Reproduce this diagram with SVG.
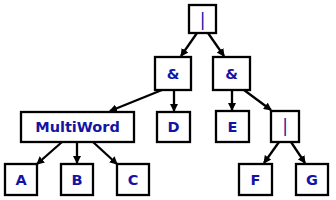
<svg xmlns="http://www.w3.org/2000/svg" width="336" height="200" viewBox="0 0 336 200">
<defs>
<marker id="ah" markerWidth="8" markerHeight="8" refX="7" refY="4" orient="auto" markerUnits="userSpaceOnUse">
<path d="M0,0 L8,4 L0,8 Z" fill="#000"/>
</marker>
<style>
.n rect{fill:#fff;stroke:#000;stroke-width:2.3}
.n text{font-family:"DejaVu Sans",sans-serif;font-size:14.5px;font-weight:bold;fill:#1414a4;text-anchor:middle}
.n text.bar{font-size:17px;font-weight:normal}
.e line{stroke:#000;stroke-width:2.3;marker-end:url(#ah)}
</style>
</defs>
<rect width="336" height="200" fill="#fff"/>
<g class="e">
<line x1="197" y1="33" x2="181" y2="56"/>
<line x1="208" y1="33" x2="224" y2="56"/>
<line x1="162" y1="90" x2="110" y2="111"/>
<line x1="174" y1="90" x2="174" y2="111"/>
<line x1="232" y1="90" x2="232" y2="110"/>
<line x1="244" y1="90" x2="271" y2="110"/>
<line x1="279" y1="142" x2="264" y2="163"/>
<line x1="291" y1="142" x2="305" y2="163"/>
<line x1="62" y1="142" x2="37" y2="164"/>
<line x1="77" y1="142" x2="77" y2="163"/>
<line x1="93" y1="142" x2="117" y2="164"/>
</g>
<g class="n" id="root"><rect x="189" y="5" width="27" height="28"/><text class="bar" x="202.5" y="25.9">|</text></g>
<g class="n" id="and1"><rect x="155" y="57" width="36" height="33"/><text x="173" y="78.8">&amp;</text></g>
<g class="n" id="and2"><rect x="213" y="57" width="37" height="33"/><text x="231.5" y="78.8">&amp;</text></g>
<g class="n" id="multi"><rect x="21" y="112" width="113" height="30"/><text x="77.5" y="132.3">MultiWord</text></g>
<g class="n" id="d"><rect x="157" y="112" width="33" height="30"/><text x="173.5" y="132.3">D</text></g>
<g class="n" id="e"><rect x="216" y="111" width="33" height="31"/><text x="232.5" y="131.8">E</text></g>
<g class="n" id="or2"><rect x="271" y="111" width="28" height="31"/><text class="bar" x="285" y="132.2">|</text></g>
<g class="n" id="a"><rect x="5" y="164" width="32" height="31"/><text x="21" y="184.8">A</text></g>
<g class="n" id="b"><rect x="61" y="164" width="32" height="31"/><text x="77" y="184.8">B</text></g>
<g class="n" id="c"><rect x="117" y="164" width="32" height="31"/><text x="133" y="184.8">C</text></g>
<g class="n" id="f"><rect x="239" y="164" width="33" height="31"/><text x="255.5" y="184.8">F</text></g>
<g class="n" id="g"><rect x="296" y="164" width="32" height="31"/><text x="312" y="184.8">G</text></g>
</svg>
